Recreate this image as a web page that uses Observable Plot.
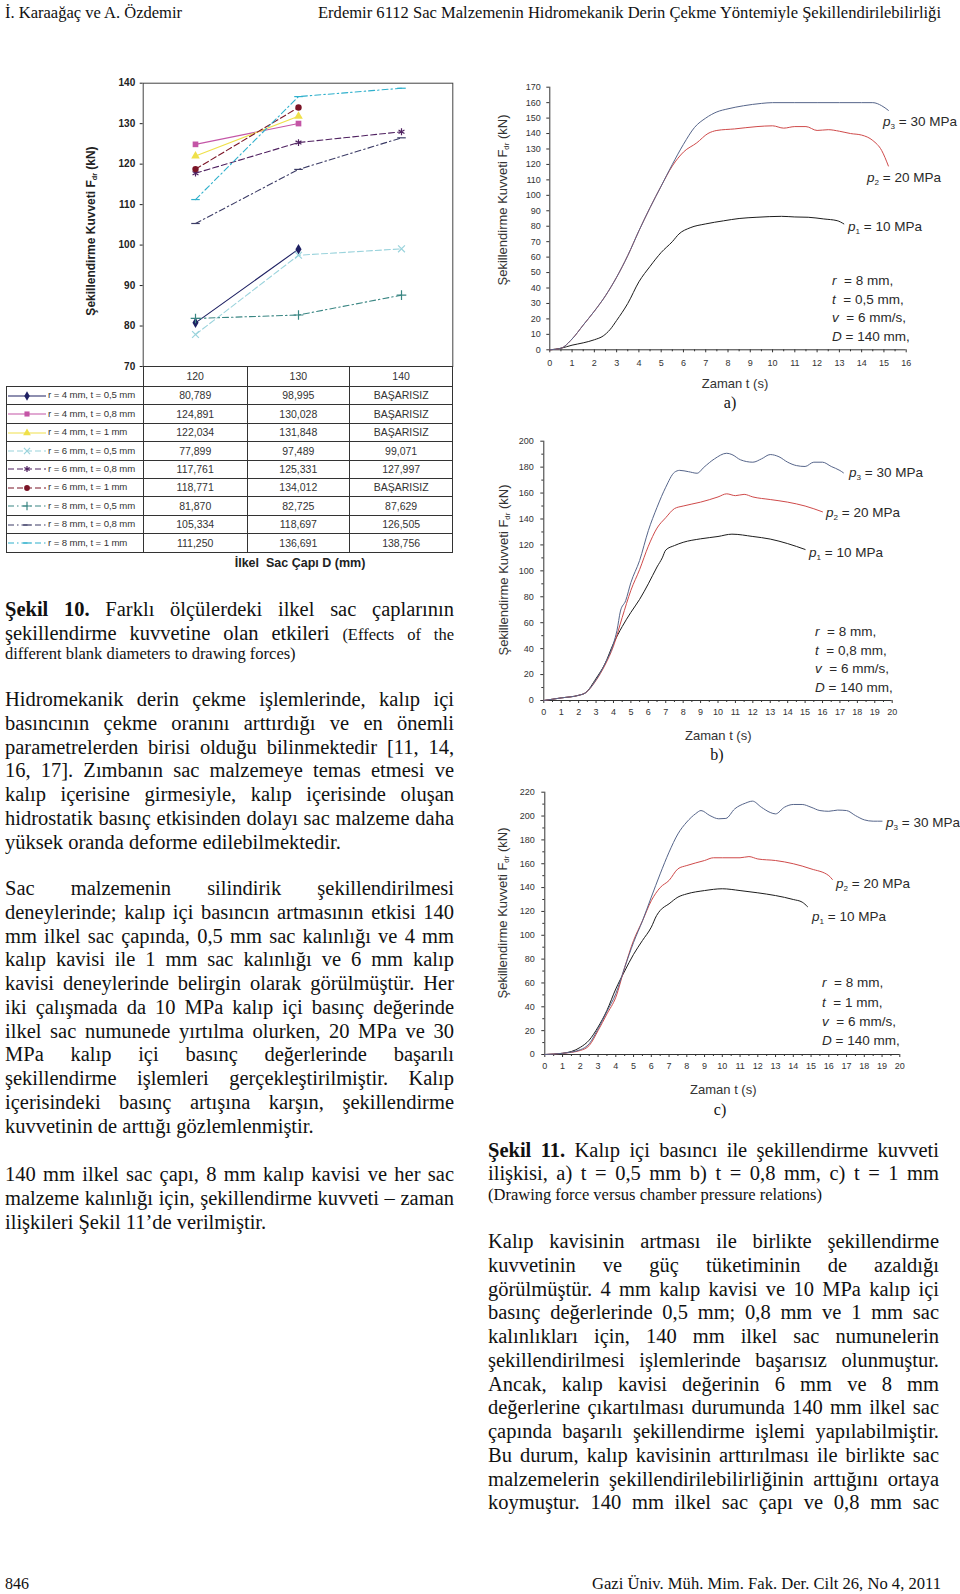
<!DOCTYPE html>
<html><head><meta charset="utf-8">
<script src="https://cdn.jsdelivr.net/npm/d3@7"></script>
<script src="https://cdn.jsdelivr.net/npm/@observablehq/plot@0.6"></script>
<style>
html,body{margin:0;padding:0;background:#fff;}
#page{position:relative;width:960px;height:1594px;overflow:hidden;background:#fff;}
#textlayer{position:absolute;left:0;top:0;z-index:0;}
.chart{position:absolute;z-index:1;}
.ctr{position:absolute;z-index:2;white-space:nowrap;line-height:1;transform:translate(-50%,-50%);}
.rot{position:absolute;z-index:2;white-space:nowrap;line-height:1;transform:translate(-50%,-50%) rotate(-90deg);}
.ann{position:absolute;z-index:2;white-space:nowrap;line-height:1;transform:translateY(-50%);font-family:"Liberation Sans",Arial,sans-serif;font-size:13.5px;color:#2a2a2a;}
sub{font-size:0.6em;vertical-align:-0.3em;line-height:0;}
table.tb{position:absolute;z-index:2;border-collapse:collapse;table-layout:fixed;font-family:"Liberation Sans",Arial,sans-serif;font-size:10.5px;color:#333;}
table.tb td{border:1px solid #333;padding:0;text-align:center;height:17.4px;line-height:1;white-space:nowrap;overflow:visible;}
table.tb td.lg{text-align:left;font-size:9.6px;letter-spacing:-0.1px;}
table.tb td.blank{border:none;}
</style>
</head><body>
<div id="page"></div>
<script>
// ---------- DATA ----------
const diameters = [120, 130, 140];
const seriesNames = [
  "r = 4 mm, t = 0,5 mm", "r = 4 mm, t = 0,8 mm", "r = 4 mm, t = 1 mm",
  "r = 6 mm, t = 0,5 mm", "r = 6 mm, t = 0,8 mm", "r = 6 mm, t = 1 mm",
  "r = 8 mm, t = 0,5 mm", "r = 8 mm, t = 0,8 mm", "r = 8 mm, t = 1 mm"
];
const forceValues = [
  [80.789, 98.995, null],
  [124.891, 130.028, null],
  [122.034, 131.848, null],
  [77.899, 97.489, 99.071],
  [117.761, 125.331, 127.997],
  [118.771, 134.012, null],
  [81.870, 82.725, 87.629],
  [105.334, 118.697, 126.505],
  [111.250, 136.691, 138.756]
];
const failText = "BAŞARISIZ";
const yTicks10 = [70, 80, 90, 100, 110, 120, 130, 140];

// Fig 11 a) t = 0,5 mm  [time s, force kN]
const aP1 = [[0,0],[0.5,1],[1,3],[1.5,4.5],[2,6.5],[2.4,9],[2.7,13],[3,19],[3.5,30],[4,44],[4.5,54],[5,63],[5.5,70],[5.8,75],[6.3,79],[7,81.5],[7.8,83.5],[8.5,85],[9.3,85.8],[10.4,86.4],[11,86],[11.6,85.8],[12.3,84.7],[12.9,83.6],[13.2,81.5]];
const aP2 = [[0,0],[0.5,1],[1,7],[1.5,16],[2,25],[2.5,35],[3,47],[3.5,61],[4,77],[4.5,92],[5,106],[5.5,119],[6,128],[6.6,134],[7.1,140],[7.5,142],[8.3,143],[9.3,144.5],[10,145],[10.5,143.5],[11,144.5],[11.5,144.5],[12,142],[12.5,142.5],[13,141.5],[13.5,140],[14,139],[14.5,135.5],[14.9,129],[15.2,119]];
const aP3 = [[0,0],[0.5,1],[1,7],[1.5,16],[2,25],[2.5,35],[3,47],[3.5,61],[4,77],[4.5,92],[5,106],[5.5,120],[6,133],[6.5,144],[7,150],[7.5,154],[8,156],[8.7,158],[9.5,159.5],[10,160],[11,160],[12,160],[13,160],[14,160],[14.5,160],[14.9,158],[15.2,155]];
// Fig 11 b) t = 0,8 mm
const bP1 = [[0,0],[1,2],[2,4],[2.4,6],[3,17],[3.5,28],[4,44],[4.5,57],[5,68],[5.5,78],[6,90],[6.5,103],[6.8,110],[7,116],[7.5,119.5],[8,122],[9,124.7],[10,126.5],[10.8,128.3],[12,126.5],[13,124.5],[14,121],[15,116.5]];
const bP2 = [[0,0],[1,2],[2,4],[2.4,6],[3,15.5],[3.5,27],[4,42],[4.5,64],[5,85],[5.5,101],[6,119],[6.5,133],[7,141],[7.5,148],[8,150],[9,153],[10,157],[10.5,159.4],[11,158],[11.5,159],[12,157],[13,155],[14,153],[15,150],[16,145.5]];
const bP3 = [[0,0],[1,2],[2,4],[2.4,6],[3,16],[3.5,28],[4,44],[4.2,54],[4.4,69],[4.7,77],[5,91],[5.5,108],[6,131],[6.5,149],[7,164.5],[7.5,176],[7.8,177.5],[8.3,176.5],[8.8,175.3],[9.2,180],[9.8,186.4],[10.5,190.7],[10.8,189.7],[11.3,185.6],[12,183.8],[12.5,186.4],[13,189.7],[13.5,188],[14,183.8],[14.5,181.2],[15,180.5],[15.5,183.8],[16,183.8],[16.5,180.5],[17,177.4],[17.2,175.6]];
// Fig 11 c) t = 1 mm
const cP1 = [[0,0],[1,1],[2,6],[2.5,12],[3,23],[3.5,37],[4,55],[4.5,70],[5,84],[5.5,95.6],[6,106.8],[6.3,116.6],[6.5,120.8],[7,126.4],[7.5,132],[8,134.7],[9,137.5],[10,139],[11,137.5],[12,135.6],[13,133.3],[14,130],[14.5,127.8],[14.8,124]];
const cP2 = [[0,0],[1,1],[2,3.4],[2.5,7.5],[3,20],[3.5,34],[4,48],[4.5,73],[5,95.6],[5.5,112],[6,129],[6.5,140],[7,146],[7.5,155.7],[8,158.5],[9,162.7],[9.5,165],[10,165],[11,165],[11.5,166],[12,164],[13,162.7],[14,160],[15,155.7],[16,150],[16.2,146.8]];
const cP3 = [[0,0],[1,1],[2,4],[2.5,9],[3,21.5],[3.5,36],[4,51],[4.5,73],[5,94],[5.5,112],[6,132],[6.5,151.5],[7,169.7],[7.5,185],[8,195],[8.5,202],[8.8,204.6],[9.3,200.4],[9.8,197.7],[10.2,198],[10.7,206],[11.3,210.8],[11.7,212.5],[12.2,207.4],[12.7,203],[13,201.8],[13.5,207.4],[14,209.7],[14.5,209.7],[15,207.4],[15.5,204.6],[16,204],[16.5,205],[17,204.6],[17.5,200.4],[18,196.8],[18.5,195.7],[19,195.7]];

// ---------- STYLES ----------
const dashSym = {draw(ctx, size){ const w = Math.sqrt(size) * 0.75; ctx.moveTo(-w, 0); ctx.lineTo(w, 0); }};
const sColors = ["#1f2163", "#c455a6", "#efe04a", "#9ad3dc", "#4f2160", "#7b1426", "#3a8683", "#3c3c66", "#2fb0cc"];
const sDash = [null, null, null, "6,3", "6,3", "6,3", "6,3,1.5,3", "6,3,1.5,3", "6,3,1.5,3"];
const sSym = [d3.symbolDiamond, d3.symbolSquare, d3.symbolTriangle, d3.symbolTimes, d3.symbolAsterisk, d3.symbolCircle, d3.symbolPlus, dashSym, dashSym];
const sFilled = [true, true, true, false, false, true, false, false, false];

const page = document.getElementById("page");
const SERIF = '"Liberation Serif","Times New Roman",serif';
const SANS = '"Liberation Sans",Arial,sans-serif';

function addDiv(cls, html, style){ const d = document.createElement("div"); d.className = cls; d.innerHTML = html; Object.assign(d.style, style); page.appendChild(d); return d; }

// ---------- TEXT LAYER ----------
const tl = d3.select(page).append("svg").attr("id","textlayer").attr("width",960).attr("height",1594);
const cv = document.createElement("canvas").getContext("2d");
function measure(w, size, weight){ cv.font = `${weight} ${size}px "Liberation Serif"`; return cv.measureText(w).width; }
function drawLine(segs, x0, baseline, W, justify){
  const words = [];
  segs.forEach(s => s.t.split(" ").filter(Boolean).forEach(w => words.push({w, size: s.size || 20.5, weight: s.b ? "bold" : "normal"})));
  words.forEach(o => o.width = measure(o.w, o.size, o.weight));
  const sum = d3.sum(words, o => o.width);
  const gap = (justify && words.length > 1) ? (W - sum) / (words.length - 1) : 0.25 * words[0].size;
  let x = x0;
  words.forEach(o => {
    tl.append("text").attr("x", x).attr("y", baseline).attr("font-family", SERIF).attr("font-size", o.size)
      .attr("font-weight", o.weight).attr("fill", "#111").text(o.w);
    x += o.width + gap;
  });
}
function paragraph(lines, x0, base0, W, lastJustify){
  lines.forEach((l, i) => drawLine([{t: l}], x0, base0 + i * 23.75, W, i < lines.length - 1 || lastJustify));
}
function fitText(t, x, y, len, size){
  tl.append("text").attr("x", x).attr("y", y).attr("font-family", SERIF).attr("font-size", size).attr("fill", "#111")
    .attr("textLength", len).attr("lengthAdjust", "spacingAndGlyphs").text(t);
}
fitText("İ. Karaağaç ve A. Özdemir", 5, 18, 177, 17);
fitText("Erdemir 6112 Sac Malzemenin Hidromekanik Derin Çekme Yöntemiyle Şekillendirilebilirliği", 318, 18, 623, 17);
fitText("846", 5, 1589, 24, 17);
fitText("Gazi Üniv. Müh. Mim. Fak. Der. Cilt 26, No 4, 2011", 592, 1589, 349, 17);

const LX = 5, LW = 449, RX = 488, RW = 451;
drawLine([{t:"Şekil 10.", b:true},{t:"Farklı ölçülerdeki ilkel sac çaplarının"}], LX, 616, LW, true);
drawLine([{t:"şekillendirme kuvvetine olan etkileri"},{t:"(Effects of the", size:16.5}], LX, 639.5, LW, true);
drawLine([{t:"different blank diameters to drawing forces)", size:16.5}], LX, 659, LW, false);
paragraph(["Hidromekanik derin çekme işlemlerinde, kalıp içi",
"basıncının çekme oranını arttırdığı ve en önemli",
"parametrelerden birisi olduğu bilinmektedir [11, 14,",
"16, 17]. Zımbanın sac malzemeye temas etmesi ve",
"kalıp içerisine girmesiyle, kalıp içerisinde oluşan",
"hidrostatik basınç etkisinden dolayı sac malzeme daha",
"yüksek oranda deforme edilebilmektedir."], LX, 706, LW, false);
paragraph(["Sac malzemenin silindirik şekillendirilmesi",
"deneylerinde; kalıp içi basıncın artmasının etkisi 140",
"mm ilkel sac çapında, 0,5 mm sac kalınlığı ve 4 mm",
"kalıp kavisi ile 1 mm sac kalınlığı ve 6 mm kalıp",
"kavisi deneylerinde belirgin olarak görülmüştür. Her",
"iki çalışmada da 10 MPa kalıp içi basınç değerinde",
"ilkel sac numunede yırtılma olurken, 20 MPa ve 30",
"MPa kalıp içi basınç değerlerinde başarılı",
"şekillendirme işlemleri gerçekleştirilmiştir. Kalıp",
"içerisindeki basınç artışına karşın, şekillendirme",
"kuvvetinin de arttığı gözlemlenmiştir."], LX, 895, LW, false);
paragraph(["140 mm ilkel sac çapı, 8 mm kalıp kavisi ve her sac",
"malzeme kalınlığı için, şekillendirme kuvveti – zaman",
"ilişkileri Şekil 11’de verilmiştir."], LX, 1181, LW, false);

drawLine([{t:"Şekil 11.", b:true},{t:"Kalıp içi basıncı ile şekillendirme kuvveti"}], RX, 1156.5, RW, true);
drawLine([{t:"ilişkisi, a) t = 0,5 mm b) t = 0,8 mm, c) t = 1 mm"}], RX, 1180, RW, true);
drawLine([{t:"(Drawing force versus chamber pressure relations)", size:16.5}], RX, 1200, RW, false);
paragraph(["Kalıp kavisinin artması ile birlikte şekillendirme",
"kuvvetinin ve güç tüketiminin de azaldığı",
"görülmüştür. 4 mm kalıp kavisi ve 10 MPa kalıp içi",
"basınç değerlerinde 0,5 mm; 0,8 mm ve 1 mm sac",
"kalınlıkları için, 140 mm ilkel sac numunelerin",
"şekillendirilmesi işlemlerinde başarısız olunmuştur.",
"Ancak, kalıp kavisi değerinin 6 mm ve 8 mm",
"değerlerine çıkartılması durumunda 140 mm ilkel sac",
"çapında başarılı şekillendirme işlemi yapılabilmiştir.",
"Bu durum, kalıp kavisinin arttırılması ile birlikte sac",
"malzemelerin şekillendirilebilirliğinin arttığını ortaya",
"koymuştur. 140 mm ilkel sac çapı ve 0,8 mm sac"], RX, 1248, RW, true);

// ---------- FIGURE 10 ----------
const rows = [];
forceValues.forEach((vals, i) => vals.forEach((v, j) => { if (v != null) rows.push({s: i, d: diameters[j], f: v}); }));
const fig10 = Plot.plot({
  width: 460, height: 300, marginLeft: 142.7, marginRight: 7.7, marginTop: 12.7, marginBottom: 4,
  x: {type: "point", domain: diameters, padding: 0.5, axis: null},
  y: {domain: [70, 140]},
  style: {fontFamily: SANS, color: "#222", background: "transparent", overflow: "visible"},
  marks: [
    Plot.axisY({ticks: yTicks10, tickSize: 3, tickPadding: 5, fontSize: 10, fontWeight: "bold", label: null}),
    Plot.frame({stroke: "#444"}),
    ...seriesNames.map((n, i) => Plot.line(rows.filter(r => r.s === i), {x: "d", y: "f", stroke: sColors[i], strokeWidth: 1.1, strokeDasharray: sDash[i]})),
    ...seriesNames.map((n, i) => Plot.dot(rows.filter(r => r.s === i), {x: "d", y: "f", symbol: sSym[i], r: 3.2,
      fill: sFilled[i] ? sColors[i] : "none", stroke: sFilled[i] ? "none" : sColors[i], strokeWidth: 1.2}))
  ]
});
const c10 = document.createElement("div"); c10.className = "chart"; c10.style.left = "0px"; c10.style.top = "70px";
c10.appendChild(fig10); page.appendChild(c10);
addDiv("rot", 'Şekillendirme Kuvveti F<sub>dr</sub> (kN)', {left:"91px", top:"230.7px", fontFamily:SANS, fontSize:"12px", fontWeight:"bold", color:"#222"});

// table
const tb = document.createElement("table"); tb.className = "tb";
Object.assign(tb.style, {left: "6px", top: "366px", width: "446.3px"});
const cg = document.createElement("colgroup");
[136.7, 104, 102.3, 103.3].forEach(w => { const c = document.createElement("col"); c.style.width = w + "px"; cg.appendChild(c); });
tb.appendChild(cg);
const hr = tb.insertRow(); const h0 = hr.insertCell(); h0.className = "blank";
diameters.forEach(d => { const c = hr.insertCell(); c.textContent = d; c.style.height = "19px"; });
const fmt = v => v == null ? failText : v.toFixed(3).replace(".", ",");
seriesNames.forEach((n, i) => {
  const r = tb.insertRow();
  const lc = r.insertCell(); lc.className = "lg";
  const sw = d3.create("svg").attr("width", 38).attr("height", 10).style("vertical-align", "middle").style("margin", "0 2px 0 1px");
  sw.append("line").attr("x1", 0).attr("x2", 38).attr("y1", 5).attr("y2", 5).attr("stroke", sColors[i]).attr("stroke-width", 1.1).attr("stroke-dasharray", sDash[i]);
  sw.append("path").attr("transform", "translate(19,5)").attr("d", d3.symbol(sSym[i], 26)())
    .attr("fill", sFilled[i] ? sColors[i] : "none").attr("stroke", sFilled[i] ? "none" : sColors[i]).attr("stroke-width", 1.2);
  lc.appendChild(sw.node());
  lc.appendChild(document.createTextNode(n));
  forceValues[i].forEach(v => { const c = r.insertCell(); c.textContent = fmt(v); });
});
page.appendChild(tb);
addDiv("ctr", "İlkel&nbsp; Sac Çapı D (mm)", {left:"300px", top:"563.3px", fontFamily:SANS, fontSize:"12.5px", fontWeight:"bold", color:"#222"});

// ---------- FIGURE 11 ----------
function timeChart(cfg){
  const fig = Plot.plot({
    width: 470, height: cfg.height, marginTop: cfg.mt, marginBottom: cfg.mb, marginLeft: cfg.ml, marginRight: cfg.mr,
    x: {domain: [0, cfg.xMax]}, y: {domain: [0, cfg.yMax]},
    style: {fontFamily: SANS, color: "#333", background: "transparent", overflow: "visible"},
    marks: [
      Plot.axisY({ticks: d3.range(0, cfg.yMax + 0.1, cfg.yStep), tickSize: 3, tickPadding: cfg.yPad, fontSize: 9, label: null}),
      cfg.yMinor ? Plot.axisY({ticks: d3.range(cfg.yMinor, cfg.yMax, cfg.yStep), tickSize: 2, tickFormat: () => "", label: null}) : null,
      Plot.axisX({ticks: d3.range(0, cfg.xMax + 0.1, 1), tickSize: 3, tickPadding: cfg.xPad, fontSize: 9, label: null}),
      Plot.axisX({ticks: d3.range(0.5, cfg.xMax, 1), tickSize: 2, tickFormat: () => "", label: null}),
      Plot.ruleX([0], {stroke: "#333"}),
      Plot.ruleY([0], {stroke: "#333"}),
      Plot.line(cfg.p1, {x: d => d[0], y: d => d[1], stroke: "#1c1c1c", strokeWidth: 1, curve: "monotone-x"}),
      Plot.line(cfg.p2, {x: d => d[0], y: d => d[1], stroke: "#cf4a4a", strokeWidth: 1, curve: "monotone-x"}),
      Plot.line(cfg.p3, {x: d => d[0], y: d => d[1], stroke: "#56658a", strokeWidth: 1, curve: "monotone-x"})
    ]
  });
  const c = document.createElement("div"); c.className = "chart"; c.style.left = "490px"; c.style.top = cfg.top + "px";
  c.appendChild(fig); page.appendChild(c);
  addDiv("rot", 'Şekillendirme Kuvveti F<sub>dr</sub> (kN)', {left: cfg.yl[0] + "px", top: cfg.yl[1] + "px", fontFamily: SANS, fontSize: "13px", color: "#333"});
  addDiv("ctr", "Zaman t (s)", {left: cfg.xl[0] + "px", top: cfg.xl[1] + "px", fontFamily: SANS, fontSize: "13px", color: "#333"});
  addDiv("ctr", cfg.tag, {left: cfg.tg[0] + "px", top: cfg.tg[1] + "px", fontFamily: SERIF, fontSize: "16px", color: "#111"});
  const pl = [["3","30"],["2","20"],["1","10"]];
  cfg.pp.forEach((p, i) => addDiv("ann", `<i>p</i><sub>${pl[i][0]}</sub> = ${pl[i][1]} MPa`, {left: p[0] + "px", top: p[1] + "px"}));
  const prm = [`<i>r</i> &nbsp;= 8 mm,`, `<i>t</i> &nbsp;= ${cfg.t} mm,`, `<i>v</i> &nbsp;= 6 mm/s,`, `<i>D</i> = 140 mm,`];
  prm.forEach((h, i) => addDiv("ann", h, {left: cfg.px + "px", top: cfg.py[i] + "px"}));
}
timeChart({top: 75, height: 300, mt: 11.7, mb: 25.7, ml: 59.3, mr: 54.3, xMax: 16, yMax: 170, yStep: 10, yMinor: null, yPad: 6, xPad: 7,
  p1: aP1, p2: aP2, p3: aP3, yl: [502, 200], xl: [735, 383.3], tag: "a)", tg: [730, 403],
  pp: [[883, 122], [867, 178.3], [848, 226.7]], px: 832, py: [280.7, 300, 318.3, 336.7], t: "0,5"});
timeChart({top: 432, height: 290, mt: 8.7, mb: 22, ml: 53.3, mr: 68.3, xMax: 20, yMax: 200, yStep: 20, yMinor: 10, yPad: 7, xPad: 5.5,
  p1: bP1, p2: bP2, p3: bP3, yl: [503, 570], xl: [718.3, 735], tag: "b)", tg: [717, 755],
  pp: [[849, 472.7], [826, 513.3], [809, 553.3]], px: 815, py: [631.7, 650.7, 669.3, 688.3], t: "0,8"});
timeChart({top: 782, height: 295, mt: 9.7, mb: 23, ml: 54.3, mr: 60.7, xMax: 20, yMax: 220, yStep: 20, yMinor: 10, yPad: 7, xPad: 5.5,
  p1: cP1, p2: cP2, p3: cP3, yl: [502, 913], xl: [723.3, 1089.3], tag: "c)", tg: [720, 1110],
  pp: [[886, 823.3], [836, 884], [812, 917.3]], px: 822, py: [983.3, 1002.7, 1021.7, 1040.7], t: "1"});
</script>
</body></html>
